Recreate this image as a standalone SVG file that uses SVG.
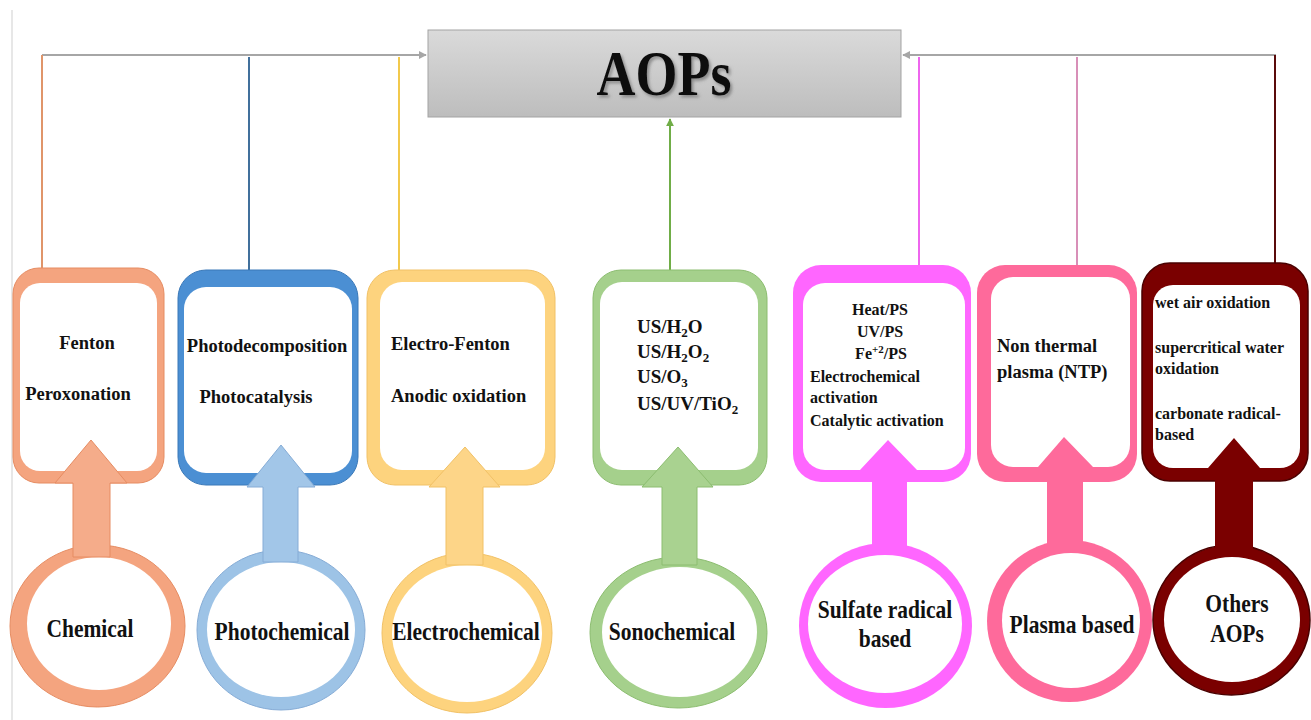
<svg xmlns="http://www.w3.org/2000/svg" width="1311" height="720" viewBox="0 0 1311 720">
<defs>
<linearGradient id="gHead" x1="0" y1="0" x2="0" y2="1"><stop offset="0" stop-color="#dadada"/><stop offset="1" stop-color="#bdbdbd"/></linearGradient>
<marker id="mGray" viewBox="0 0 10 10" refX="9" refY="5" markerWidth="4" markerHeight="4" orient="auto"><path d="M0,0 L10,5 L0,10 z" fill="#a6a6a6"/></marker>
<marker id="mGreen" viewBox="0 0 10 10" refX="9" refY="5" markerWidth="4" markerHeight="4" orient="auto"><path d="M0,0 L10,5 L0,10 z" fill="#70ad47"/></marker>
<filter id="shadow" x="-10%" y="-10%" width="130%" height="140%"><feDropShadow dx="2" dy="2" stdDeviation="1.5" flood-color="#555" flood-opacity="0.55"/></filter>
</defs>
<style>
text{font-family:"Liberation Serif","Times New Roman",serif;font-weight:bold;fill:#111}
.bt{font-size:18.5px}
.st{font-size:16px}
.ot{font-size:16px}
.ct{font-size:21.5px;text-anchor:middle}
.mid{text-anchor:middle}
.conn{fill:none;stroke-width:2}
.inner{fill:#ffffff}
</style>
<rect width="1311" height="720" fill="#ffffff"/>
<line x1="12" y1="10" x2="12" y2="720" stroke="#cfcfcf" stroke-width="1"/>

<g id="connectors">
<path class="conn" d="M42,55 H426" stroke="#a6a6a6" stroke-width="2.5" marker-end="url(#mGray)"/>
<path class="conn" d="M1276,55 H903" stroke="#a6a6a6" stroke-width="2.5" marker-end="url(#mGray)"/>
<line x1="42" y1="55" x2="42" y2="269" stroke="#e0956a" stroke-width="2"/>
<line x1="249" y1="57" x2="249" y2="271" stroke="#41709c" stroke-width="2"/>
<line x1="399" y1="57" x2="399" y2="271" stroke="#f2c94c" stroke-width="2"/>
<path class="conn" d="M670,271 V119" stroke="#70ad47" marker-end="url(#mGreen)"/>
<line x1="919" y1="57" x2="919" y2="266" stroke="#ee66ee" stroke-width="2"/>
<line x1="1077" y1="57" x2="1077" y2="266" stroke="#d88fb8" stroke-width="2"/>
<line x1="1275" y1="55" x2="1275" y2="264" stroke="#5a0a0a" stroke-width="2"/>
</g>

<g id="aops">
<rect x="428" y="30" width="473" height="87" fill="url(#gHead)" stroke="#a3a3a3" stroke-width="1"/>
<text transform="translate(664,95) scale(1,1.17)" text-anchor="middle" font-size="54" filter="url(#shadow)">AOPs</text>
</g>

<g id="chemical">
<rect x="13" y="268" width="151" height="215" rx="26" fill="#f4a47f" stroke="#e68c62" stroke-width="1"/>
<rect x="20" y="283" width="137" height="188" rx="20" class="inner"/>
<ellipse cx="97.5" cy="626" rx="87.5" ry="81" fill="#f4a47f" stroke="#e68c62" stroke-width="1"/>
<ellipse cx="99" cy="623.5" rx="72" ry="66.5" class="inner"/>
<path d="M91,440 L127,483 L110,483 L110,557 L73,557 L73,483 L55,483 Z" fill="#f5ac8a" stroke="#e68c62" stroke-width="1"/>
<text class="bt mid" x="87" y="349">Fenton</text>
<text class="bt mid" x="78" y="400">Peroxonation</text>
<text class="ct" transform="translate(90,637) scale(1,1.2)">Chemical</text>
</g>

<g id="photochemical">
<rect x="178" y="270" width="180" height="215" rx="28" fill="#4b8fd3" stroke="#3b79b8" stroke-width="1"/>
<rect x="184" y="287" width="168" height="186" rx="22" class="inner"/>
<ellipse cx="281" cy="630" rx="84" ry="80" fill="#9dc3e6" stroke="#86acd6" stroke-width="1"/>
<ellipse cx="281" cy="629.5" rx="74" ry="67.5" class="inner"/>
<path d="M281,445 L315,487 L298,487 L298,562 L263,562 L263,487 L247,487 Z" fill="#a2c6e8" stroke="#86acd6" stroke-width="1"/>
<text class="bt mid" x="267" y="352">Photodecomposition</text>
<text class="bt mid" x="256" y="403">Photocatalysis</text>
<text class="ct" transform="translate(282,640) scale(1,1.2)">Photochemical</text>
</g>

<g id="electrochemical">
<rect x="367" y="270" width="188" height="215" rx="28" fill="#fdd37e" stroke="#f1c166" stroke-width="1"/>
<rect x="380" y="282" width="165" height="188" rx="22" class="inner"/>
<ellipse cx="467" cy="633" rx="85" ry="80" fill="#fdd37e" stroke="#f1c166" stroke-width="1"/>
<ellipse cx="467" cy="633.5" rx="75" ry="68.5" class="inner"/>
<path d="M465,447 L500,487 L483,487 L483,565 L446,565 L446,487 L429,487 Z" fill="#fdd588" stroke="#f1c166" stroke-width="1"/>
<text class="bt" x="391" y="350">Electro-Fenton</text>
<text class="bt" x="391" y="402">Anodic oxidation</text>
<text class="ct" transform="translate(466,640) scale(1,1.2)">Electrochemical</text>
</g>

<g id="sonochemical">
<rect x="593" y="270" width="174" height="215" rx="28" fill="#a5d08c" stroke="#8cbd70" stroke-width="1"/>
<rect x="600" y="282" width="158" height="188" rx="22" class="inner"/>
<ellipse cx="678.5" cy="632.5" rx="88.5" ry="75.5" fill="#a5d08c" stroke="#8cbd70" stroke-width="1"/>
<ellipse cx="679.5" cy="632" rx="77.5" ry="65" class="inner"/>
<path d="M678,447 L713,487 L697,487 L697,565 L662,565 L662,487 L642,487 Z" fill="#a9d290" stroke="#8cbd70" stroke-width="1"/>
<text font-size="19" x="637" y="333">US/H<tspan font-size="13" dy="4">2</tspan><tspan dy="-4">O</tspan></text>
<text font-size="19" x="637" y="358">US/H<tspan font-size="13" dy="4">2</tspan><tspan dy="-4">O</tspan><tspan font-size="13" dy="4">2</tspan></text>
<text font-size="19" x="637" y="383">US/O<tspan font-size="13" dy="4">3</tspan></text>
<text font-size="19" x="637" y="410">US/UV/TiO<tspan font-size="13" dy="4">2</tspan></text>
<text class="ct" transform="translate(672,640) scale(1,1.2)">Sonochemical</text>
</g>

<g id="sulfate">
<rect x="793" y="265" width="178" height="217" rx="28" fill="#ff66ff"/>
<rect x="803" y="283" width="162" height="187" rx="22" class="inner"/>
<ellipse cx="885.5" cy="625.5" rx="86.5" ry="82.5" fill="#ff66ff"/>
<ellipse cx="885" cy="624" rx="77" ry="69" class="inner"/>
<path d="M888,440 L917,470 L907,470 L907,552 L872,552 L872,470 L860,470 Z" fill="#ff66ff"/>
<text class="st mid" x="880" y="315">Heat/PS</text>
<text class="st mid" x="880" y="337">UV/PS</text>
<text class="st mid" x="881" y="359">Fe<tspan font-size="11" dy="-6">+2</tspan><tspan dy="6">/PS</tspan></text>
<text class="st" x="810" y="382">Electrochemical</text>
<text class="st" x="810" y="403">activation</text>
<text class="st" x="810" y="426">Catalytic activation</text>
<text class="ct" transform="translate(885,618) scale(1,1.2)">Sulfate radical</text>
<text class="ct" transform="translate(885,647) scale(1,1.2)">based</text>
</g>

<g id="plasma">
<rect x="977" y="265" width="160" height="217" rx="28" fill="#fe6a9b"/>
<rect x="991" y="277" width="139" height="190" rx="22" class="inner"/>
<ellipse cx="1069.5" cy="621" rx="82.5" ry="81" fill="#fe6a9b"/>
<ellipse cx="1071" cy="620.5" rx="69" ry="67.5" class="inner"/>
<path d="M1064,437 L1093,467 L1083,467 L1083,548 L1047,548 L1047,467 L1038,467 Z" fill="#fe6a9b"/>
<text class="bt" x="997" y="352">Non thermal</text>
<text class="bt" x="997" y="378">plasma (NTP)</text>
<text class="ct" transform="translate(1072,633) scale(1,1.2)">Plasma based</text>
</g>

<g id="others">
<rect x="1142" y="263" width="166" height="218" rx="28" fill="#7a0000" stroke="#4a0000" stroke-width="1.5"/>
<rect x="1153" y="285" width="147" height="183" rx="20" class="inner"/>
<ellipse cx="1231.5" cy="620" rx="78.5" ry="75" fill="#7a0000" stroke="#4a0000" stroke-width="1.5"/>
<ellipse cx="1232" cy="619.5" rx="68" ry="62.5" class="inner"/>
<path d="M1234,438 L1260,468 L1253,468 L1253,552 L1215,552 L1215,468 L1208,468 Z" fill="#7a0000"/>
<text class="ot" x="1155" y="308">wet air oxidation</text>
<text class="ot" x="1155" y="353">supercritical water</text>
<text class="ot" x="1155" y="374">oxidation</text>
<text class="ot" x="1155" y="419">carbonate radical-</text>
<text class="ot" x="1155" y="440">based</text>
<text class="ct" transform="translate(1237,612) scale(1,1.2)">Others</text>
<text class="ct" transform="translate(1237,642) scale(1,1.2)">AOPs</text>
</g>
</svg>
